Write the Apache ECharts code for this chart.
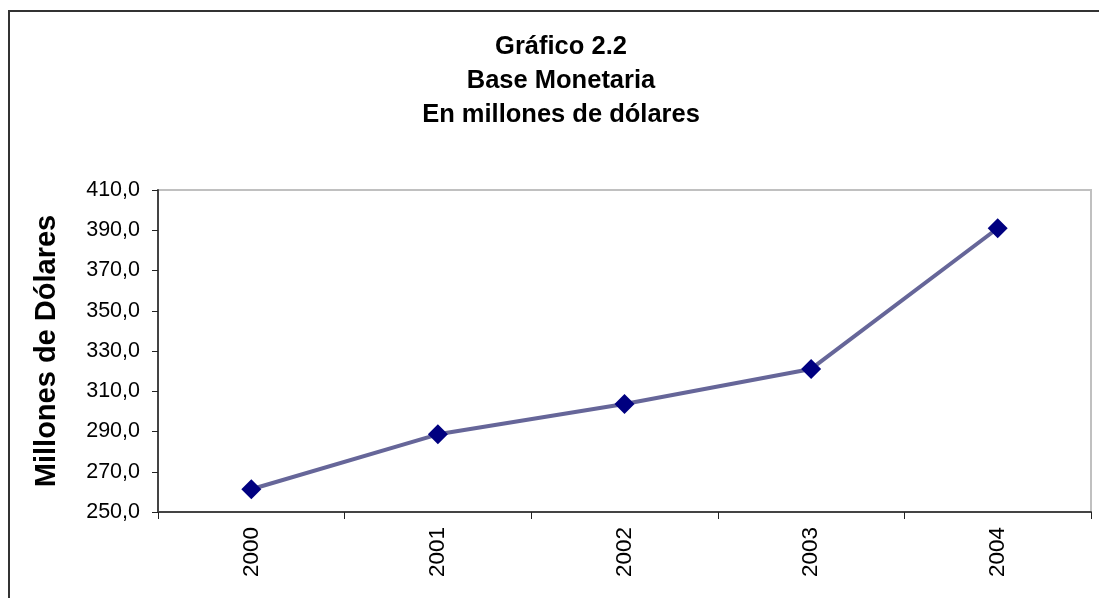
<!DOCTYPE html>
<html>
<head>
<meta charset="utf-8">
<script src="https://cdn.jsdelivr.net/npm/echarts@6/dist/echarts.min.js"></script>
<style>html,body{margin:0;padding:0;background:#fff}#c{width:1099px;height:598px}</style>
</head>
<body>
<div id="c"></div>
<script>
const titleLines = ['Gráfico 2.2', 'Base Monetaria', 'En millones de dólares'];
const yAxisName = 'Millones de Dólares';
const years = ['2000', '2001', '2002', '2003', '2004'];
const baseMonetaria = [261.3, 288.6, 303.7, 321.1, 391.0];
const yMin = 250, yMax = 410, yStep = 20;

const chart = echarts.init(document.getElementById('c'));
const font = '"Liberation Sans", Arial, sans-serif';
chart.setOption({
  animation: false,
  backgroundColor: '#fff',
  title: {
    text: titleLines.join('\n'),
    left: 561, top: 30, padding: 0, textAlign: 'center',
    textStyle: { fontFamily: font, fontSize: 25.5, fontWeight: 'bold', color: '#000', lineHeight: 34 }
  },
  graphic: [{
    type: 'rect', shape: { x: 9, y: 11, width: 1200, height: 800 },
    style: { fill: 'none', stroke: '#333', lineWidth: 2 }, z: 100
  }],
  grid: { left: 158, top: 190, right: 8, bottom: 86, show: true, borderColor: '#c0c0c0', borderWidth: 2 },
  xAxis: {
    type: 'category', data: years, boundaryGap: true,
    axisLine: { lineStyle: { color: '#444', width: 2 } },
    axisTick: { show: true, length: 7, lineStyle: { color: '#222', width: 1 } },
    axisLabel: { rotate: 90, margin: 15, color: '#000', fontFamily: font, fontSize: 22.5 },
    splitLine: { show: false }
  },
  yAxis: {
    type: 'value', min: yMin, max: yMax, interval: yStep,
    name: yAxisName, nameLocation: 'middle', nameRotate: 90, nameGap: 97,
    nameTextStyle: { fontFamily: font, fontSize: 29, fontWeight: 'bold', color: '#000' },
    axisLine: { show: true, lineStyle: { color: '#444', width: 2 } },
    axisTick: { show: true, length: 6, lineStyle: { color: '#222', width: 1 } },
    axisLabel: { margin: 18, color: '#000', fontFamily: font, fontSize: 21.5,
      formatter: v => v.toFixed(1).replace('.', ',') },
    splitLine: { show: false }
  },
  series: [{
    type: 'line', data: baseMonetaria,
    lineStyle: { color: '#666699', width: 4 },
    symbol: 'diamond', symbolSize: 20,
    itemStyle: { color: '#000080' }
  }]
});
</script>
</body>
</html>
